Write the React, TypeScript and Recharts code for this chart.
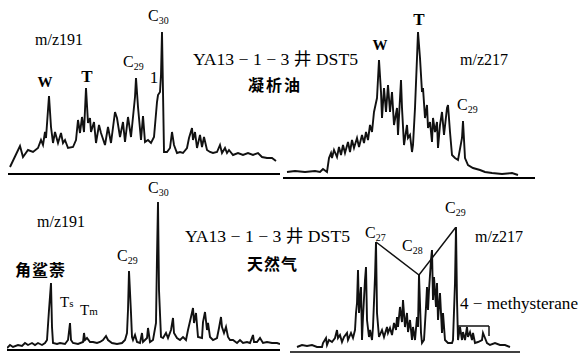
import React from "react";
import { LineChart, Line, XAxis, YAxis, ReferenceLine } from "recharts";

// [scan, relative abundance]
const oilHopanes: [number, number][] = [
  [0, 3], [10, 24], [13, 13], [18, 20], [23, 18], [28, 22], [31, 30], [33, 25], [35, 38], [36, 32],
  [39, 74], [41, 43], [43, 27], [45, 38], [48, 27], [51, 37], [53, 27], [55, 30], [58, 22], [63, 23],
  [66, 30], [68, 50], [70, 37], [72, 53], [74, 38], [76, 82], [78, 47], [80, 52], [81, 38], [84, 48],
  [86, 27], [89, 45], [91, 37], [95, 25], [98, 43], [101, 27], [105, 58], [107, 52], [110, 33], [113, 48],
  [115, 28], [118, 53], [121, 33], [125, 73], [126, 92], [128, 63], [131, 30], [133, 54], [135, 28], [138, 30],
  [141, 27], [144, 33], [147, 68], [148, 75], [150, 78], [151, 95], [152, 138], [153, 78], [154, 18], [157, 18],
  [160, 22], [162, 38], [164, 25], [167, 17], [170, 18], [173, 17], [177, 22], [179, 32], [182, 42], [183, 30],
  [185, 38], [187, 22], [190, 35], [192, 23], [194, 33], [197, 20], [200, 18], [203, 17], [207, 18], [210, 25],
  [212, 17], [215, 22], [217, 17], [219, 20], [223, 15], [228, 17], [233, 15], [238, 17], [243, 15], [248, 17],
  [252, 13], [257, 12], [262, 12], [266, 9],
];

const oilSteranes: [number, number][] = [
  [2, 6], [10, 7], [20, 6], [30, 7], [35, 6], [38, 9], [42, 6], [44, 20], [46, 25], [47, 20],
  [49, 28], [52, 21], [54, 31], [56, 23], [58, 33], [60, 25], [63, 36], [65, 26], [67, 38], [69, 30],
  [72, 40], [74, 31], [77, 43], [79, 35], [81, 46], [83, 38], [85, 53], [87, 46], [89, 66], [92, 80],
  [94, 118], [96, 86], [97, 60], [99, 90], [101, 66], [103, 93], [105, 66], [107, 86], [109, 53], [112, 70],
  [113, 43], [116, 98], [117, 70], [119, 33], [122, 53], [123, 40], [125, 43], [127, 26], [128, 33], [130, 70],
  [132, 120], [133, 146], [135, 120], [137, 86], [138, 90], [140, 60], [142, 73], [143, 50], [145, 56], [147, 36],
  [148, 60], [150, 46], [152, 56], [153, 30], [155, 53], [157, 66], [159, 43], [162, 70], [163, 73], [165, 46],
  [167, 23], [170, 20], [173, 18], [177, 40], [178, 57], [180, 20], [183, 13], [188, 10], [195, 8], [200, 6],
  [207, 5], [217, 4], [227, 5], [233, 3],
];

const gasHopanes: [number, number][] = [
  [0, 2], [3, 5], [6, 3], [11, 5], [15, 4], [18, 7], [21, 5], [25, 7], [28, 5], [31, 7],
  [35, 5], [38, 7], [40, 10], [42, 40], [44, 67], [45, 23], [46, 7], [50, 6], [53, 7], [58, 6],
  [61, 10], [63, 27], [64, 10], [66, 7], [71, 6], [76, 8], [77, 17], [78, 10], [80, 12], [83, 8],
  [86, 8], [90, 7], [93, 8], [96, 10], [99, 14], [101, 10], [105, 7], [110, 6], [115, 7], [118, 10],
  [120, 17], [121, 40], [122, 79], [124, 37], [125, 13], [126, 10], [128, 15], [130, 8], [133, 7], [135, 17],
  [136, 8], [140, 12], [141, 22], [143, 8], [146, 10], [149, 27], [150, 93], [151, 148], [152, 60], [154, 13],
  [156, 12], [159, 17], [161, 12], [164, 20], [166, 32], [167, 17], [170, 12], [173, 10], [176, 13], [179, 10],
  [181, 20], [184, 33], [186, 42], [187, 27], [189, 37], [191, 13], [195, 12], [196, 28], [198, 38], [200, 20],
  [201, 27], [203, 13], [206, 10], [210, 12], [212, 22], [214, 33], [215, 23], [217, 17], [219, 23], [221, 13],
  [223, 10], [226, 10], [230, 7], [233, 10], [236, 7], [240, 8], [243, 7], [246, 15], [247, 8], [250, 8],
  [253, 12], [256, 7], [260, 8], [265, 7], [270, 7], [273, 6],
];

const gasSteranes: [number, number][] = [
  [7, 5], [12, 7], [17, 6], [22, 7], [27, 5], [32, 5], [33, 9], [36, 14], [37, 7], [39, 12],
  [42, 10], [45, 14], [47, 22], [48, 14], [50, 17], [52, 10], [54, 15], [57, 19], [58, 12], [61, 19],
  [63, 14], [65, 22], [66, 39], [67, 49], [68, 82], [69, 39], [71, 65], [72, 12], [73, 35], [75, 72],
  [76, 85], [77, 32], [79, 15], [80, 22], [82, 12], [83, 25], [85, 75], [86, 110], [87, 39], [89, 15],
  [92, 22], [94, 15], [97, 25], [98, 19], [100, 24], [102, 17], [104, 29], [106, 22], [107, 35], [108, 25],
  [110, 45], [112, 30], [113, 52], [115, 25], [117, 39], [118, 20], [120, 32], [122, 12], [123, 25], [125, 12],
  [127, 35], [128, 25], [129, 77], [131, 19], [132, 9], [134, 12], [136, 45], [137, 65], [138, 42], [139, 62],
  [141, 92], [142, 102], [143, 52], [144, 75], [146, 45], [147, 69], [148, 32], [150, 59], [152, 19], [153, 39],
  [155, 12], [158, 9], [162, 9], [163, 12], [165, 69], [166, 125], [167, 52], [168, 12], [170, 25], [172, 12],
  [173, 20], [175, 12], [177, 25], [178, 15], [180, 20], [182, 12], [183, 19], [185, 9], [188, 10], [192, 12],
  [193, 19], [195, 14], [197, 9], [200, 7], [205, 9], [210, 7], [215, 7], [220, 5],
];

// C27, C28, C29 regular sterane apexes (scans) joined by the V lines
const steraneApexScans = [86, 129, 166];
// 4-methylsterane bracket: scan range, bar level, tick ends
const methylBracketScans = [168, 199];
const methylBracketLevels = [26, 19, 16];

const rows = (pts: [number, number][]) => pts.map(([scan, ab]) => ({ scan, ab }));

const W = 579;
const H = 354;

interface Panel {
  data: [number, number][];
  box: [number, number, number, number]; // left, top, right, bottom of plot
  xDomain: [number, number];
  yDomain: [number, number];
  axisWidth: number;
}

const panels: Panel[] = [
  { data: oilHopanes, box: [8, 32, 280, 174], xDomain: [-2, 270], yDomain: [-4, 138], axisWidth: 2 },
  { data: oilSteranes, box: [283, 32, 535, 178], xDomain: [-2, 250], yDomain: [0, 146], axisWidth: 2 },
  { data: gasHopanes, box: [7, 202, 280, 350], xDomain: [0, 273], yDomain: [0, 148], axisWidth: 2 },
  { data: gasSteranes, box: [290, 227, 520, 352], xDomain: [0, 230], yDomain: [0, 125], axisWidth: 1.5 },
];

const SERIF = "'Liberation Serif', 'Times New Roman', 'Noto Sans CJK SC', serif";
const CJK = "'Noto Sans CJK SC', sans-serif";

function CLabel({ x, y, n, size = 16 }: { x: number; y: number; n: string; size?: number }) {
  return (
    <text x={x} y={y} fontSize={size} fontFamily={SERIF}>
      C<tspan fontSize={size * 0.62} dy={3}>{n}</tspan>
    </text>
  );
}

function Trace({ p, extra }: { p: Panel; extra?: React.ReactNode }) {
  const [l, t, r, b] = p.box;
  return (
    <div style={{ position: "absolute", left: 0, top: 0 }}>
      <LineChart width={W} height={H} data={rows(p.data)} margin={{ left: l, top: t, right: W - r, bottom: H - b }}>
        <XAxis type="number" dataKey="scan" domain={p.xDomain} hide allowDataOverflow />
        <YAxis type="number" domain={p.yDomain} hide allowDataOverflow />
        <ReferenceLine y={p.yDomain[0]} stroke="#000" strokeWidth={p.axisWidth} ifOverflow="extendDomain" />
        <Line type="linear" dataKey="ab" stroke="#111" strokeWidth={1.9} dot={false} isAnimationActive={false} />
        {extra}
      </LineChart>
    </div>
  );
}

export default function App() {
  const apexData = steraneApexScans.map((s) => {
    const hit = gasSteranes.find(([scan]) => scan === s);
    return { scan: s, ab: hit ? hit[1] : 0 };
  });
  const [b0, b1] = methylBracketScans;
  const [lvl, t0, t1] = methylBracketLevels;

  const steraneExtras = [
    <Line key="v" data={apexData} type="linear" dataKey="ab" stroke="#111" strokeWidth={1.5} dot={false} isAnimationActive={false} />,
    <ReferenceLine key="b1" segment={[{ x: b0, y: t0 }, { x: b0, y: lvl }]} stroke="#111" strokeWidth={1.5} />,
    <ReferenceLine key="b2" segment={[{ x: b0, y: lvl }, { x: b1, y: lvl }]} stroke="#111" strokeWidth={1.5} />,
    <ReferenceLine key="b3" segment={[{ x: b1, y: lvl }, { x: b1, y: t1 }]} stroke="#111" strokeWidth={1.5} />,
  ];

  return (
    <div style={{ position: "absolute", left: 0, top: 0, width: W, height: H, background: "#fff" }}>
      <Trace p={panels[0]} />
      <Trace p={panels[1]} />
      <Trace p={panels[2]} />
      <Trace p={panels[3]} extra={steraneExtras} />
      <svg width={W} height={H} style={{ position: "absolute", left: 0, top: 0, pointerEvents: "none" }} fill="#000">
        {/* top left: oil m/z191 */}
        <text x={35} y={45} fontSize={16} fontFamily={SERIF}>m/z191</text>
        <text x={45} y={87} fontSize={15} fontFamily={SERIF} fontWeight="bold" textAnchor="middle">W</text>
        <text x={87} y={82} fontSize={17} fontFamily={SERIF} fontWeight="bold" textAnchor="middle">T</text>
        <CLabel x={123} y={67} n="29" />
        <text x={154} y={83} fontSize={17} fontFamily={SERIF} textAnchor="middle">1</text>
        <CLabel x={148} y={21} n="30" />
        <text x={193} y={65} fontSize={17} fontFamily={SERIF} textLength={165} lengthAdjust="spacingAndGlyphs">
          YA13 − 1 − 3 井 DST5
        </text>
        <text x={248} y={91} fontSize={16} fontFamily={CJK} fontWeight="bold" letterSpacing={2}>凝析油</text>

        {/* top right: oil m/z217 */}
        <text x={380} y={50} fontSize={15} fontFamily={SERIF} fontWeight="bold" textAnchor="middle">W</text>
        <text x={419} y={25} fontSize={17} fontFamily={SERIF} fontWeight="bold" textAnchor="middle">T</text>
        <text x={460} y={65} fontSize={16} fontFamily={SERIF}>m/z217</text>
        <CLabel x={457} y={110} n="29" />

        {/* bottom left: gas m/z191 */}
        <text x={37} y={227} fontSize={16} fontFamily={SERIF}>m/z191</text>
        <CLabel x={148} y={193} n="30" />
        <text x={185} y={242} fontSize={17} fontFamily={SERIF} textLength={165} lengthAdjust="spacingAndGlyphs">
          YA13 − 1 − 3 井 DST5
        </text>
        <text x={247} y={270} fontSize={16} fontFamily={CJK} fontWeight="bold" letterSpacing={1}>天然气</text>
        <CLabel x={117} y={261} n="29" />
        <text x={15} y={276} fontSize={16} fontFamily={CJK} fontWeight="bold" letterSpacing={1}>角鲨萘</text>
        <text x={60} y={307} fontSize={15} fontFamily={SERIF}>
          T<tspan fontSize={11}>s</tspan>
        </text>
        <text x={80} y={315} fontSize={15} fontFamily={SERIF}>
          T<tspan fontSize={11}>m</tspan>
        </text>

        {/* bottom right: gas m/z217 */}
        <CLabel x={365} y={238} n="27" />
        <CLabel x={402} y={251} n="28" />
        <CLabel x={445} y={213} n="29" />
        <text x={475} y={242} fontSize={16} fontFamily={SERIF}>m/z217</text>
        <text x={460} y={309} fontSize={17} fontFamily={SERIF} textLength={118} lengthAdjust="spacingAndGlyphs">
          4 − methysterane
        </text>
      </svg>
    </div>
  );
}
